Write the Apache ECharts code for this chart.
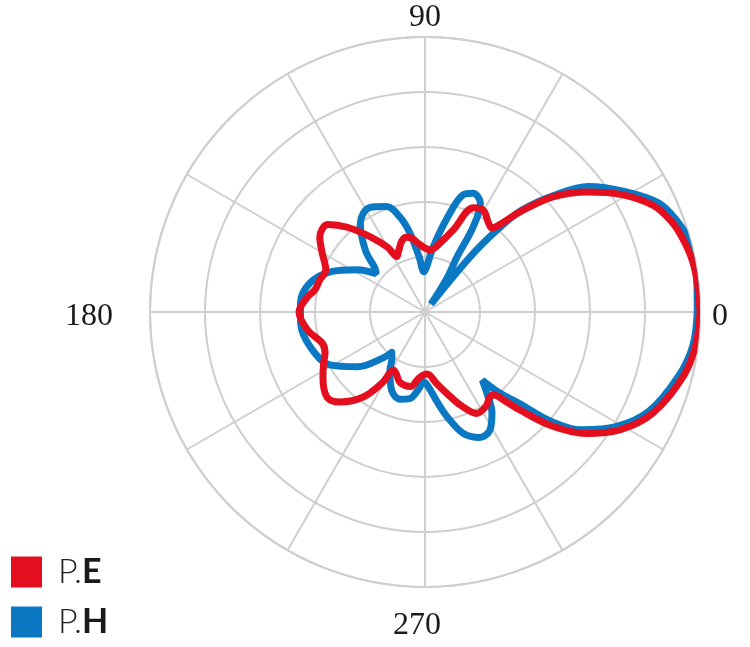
<!DOCTYPE html>
<html>
<head>
<meta charset="utf-8">
<script src="https://cdn.jsdelivr.net/npm/echarts@6/dist/echarts.min.js"></script>
<style>html,body{margin:0;padding:0;background:#fff}#c{width:750px;height:647px}</style>
</head>
<body>
<div id="c"></div>
<script>
// Radiation pattern, angle in degrees, level in dB (normalised)
var angleTicks = [0, 90, 180, 270];
var seriesNames = ['P.E', 'P.H'];

var peAngles = [0,6,11,16,20,25,31,36.5,42,46.5,49.5,51.5,55,60,65,71,78,85,90,95,100,104,108,113,117,120,126,132.5,138,144.5,150,157,163,168.5,173,180,188.7,197,202,207,212.5,221,226.6,234,239,241.5,245,250.6,259,265,272,279,285,291,297,303,307,309.5,312,314,318,323,329,336,346,353,360];
var peLevels = [0,-0.2,-0.5,-1.3,-2.2,-4.2,-8.5,-13.3,-18.7,-24.9,-29.1,-30.5,-30,-28.7,-29.1,-34.2,-37.3,-38.7,-38.4,-37.6,-36.4,-36,-36.4,-37.8,-38.7,-36.4,-33.1,-29.1,-26.2,-26.5,-28.4,-30.4,-30,-29.6,-28.4,-27.1,-28.4,-30.5,-30.4,-29.3,-28,-26.4,-27.5,-30.9,-35.1,-38,-37.6,-36.4,-36.2,-38,-38.7,-36.9,-34.7,-31.8,-29.3,-29.6,-30.5,-30.5,-28.2,-25.3,-19.1,-13.3,-8.5,-4.7,-1.6,-0.4,0];

var phAngles = [0,6,11,16,20,25,31,37.5,42,46.5,48.7,50.7,53,57,59.8,60.5,63,68,72,76.5,83,88,91.5,96,100.7,104.7,110,118,126,134,139,142,148,157,166,176,185,197,209,219,227.6,230.5,235,239,247,254,260,265,269,273,278,282,287.4,293.6,298.8,303.6,307.4,310,312,314,316,319,323,329,336,346,353,360];
var phLevels = [-0.5,-0.3,0,-0.4,-1.3,-3.1,-7.5,-12.5,-18.2,-24.5,-30.2,-37.1,-48.2,-42.7,-38.4,-32.2,-27.8,-26.7,-27.6,-32.2,-38.2,-41.8,-42.7,-40,-35.5,-32.2,-29.6,-28.5,-30,-34.4,-38,-38.7,-35.5,-31.3,-28.4,-27.3,-27.3,-28.2,-30.2,-34.2,-38.7,-40.5,-39.5,-37.6,-34.5,-33.5,-34,-35.8,-37.3,-36.2,-33.3,-30.5,-26.9,-25.1,-25.5,-28,-31.5,-33.8,-30.9,-28.5,-26,-19.8,-14.4,-9.5,-5.5,-2.4,-0.9,-0.5];

function pairs(levels, angles) {
  return levels.map(function (v, i) { return [v, angles[i]]; });
}

var chart = echarts.init(document.getElementById('c'), null, {renderer: 'canvas'});
var grey = '#CFCFCF';
chart.setOption({
  animation: false,
  backgroundColor: '#fff',
  polar: {center: [425, 312], radius: 275},
  angleAxis: {
    type: 'value', min: 0, max: 360, interval: 30,
    startAngle: 0, clockwise: false,
    axisLine: {show: true, lineStyle: {color: grey, width: 2}},
    axisTick: {show: false},
    splitLine: {show: true, lineStyle: {color: grey, width: 2}},
    axisLabel: {
      show: true, margin: 3,
      fontFamily: 'Liberation Serif', fontSize: 32, color: '#1a1a1a',
      formatter: function (v) {
        if (angleTicks.indexOf(v) < 0) return '';
        return '{a' + v + '|' + v + '}';
      },
      rich: {
        a0: {fontFamily: 'Liberation Serif', fontSize: 32, color: '#1a1a1a', padding: [10, 0, 0, 9]},
        a90: {fontFamily: 'Liberation Serif', fontSize: 32, color: '#1a1a1a', padding: [0, 0, 0, 0]},
        a180: {fontFamily: 'Liberation Serif', fontSize: 32, color: '#1a1a1a', padding: [10, 34, 0, 0]},
        a270: {fontFamily: 'Liberation Serif', fontSize: 32, color: '#1a1a1a', padding: [20, 16, 0, 0]}
      }
    }
  },
  radiusAxis: {
    type: 'value', min: -50, max: 0, interval: 10,
    axisLine: {show: false}, axisTick: {show: false}, axisLabel: {show: false},
    splitLine: {show: true, lineStyle: {color: grey, width: 2}}
  },
  legend: {
    data: seriesNames,
    orient: 'vertical', left: 6, top: 550, height: 120,
    icon: 'rect', itemWidth: 31, itemHeight: 31, itemGap: 16,
    formatter: function (n) {
      var p = n.split('.');
      return '{p|' + p[0] + '.}{b|' + p[1] + '}';
    },
    textStyle: {
      padding: [0, 0, 0, 11],
      rich: {
        p: {fontFamily: 'Lato', fontWeight: 300, fontSize: 34, lineHeight: 31, color: '#222'},
        b: {fontFamily: 'Lato', fontWeight: 'bold', fontSize: 34, lineHeight: 31, color: '#1a1a1a'}
      }
    }
  },
  series: [
    {
      name: 'P.H', type: 'line', coordinateSystem: 'polar',
      data: pairs(phLevels, phAngles), showSymbol: false, smooth: 0.35,
      color: '#0A78C2', lineStyle: {width: 7, color: '#0A78C2'}
    },
    {
      name: 'P.E', type: 'line', coordinateSystem: 'polar',
      data: pairs(peLevels, peAngles), showSymbol: false, smooth: 0.35,
      color: '#E30E1E', lineStyle: {width: 7, color: '#E30E1E'}
    }
  ]
});
</script>
</body>
</html>
